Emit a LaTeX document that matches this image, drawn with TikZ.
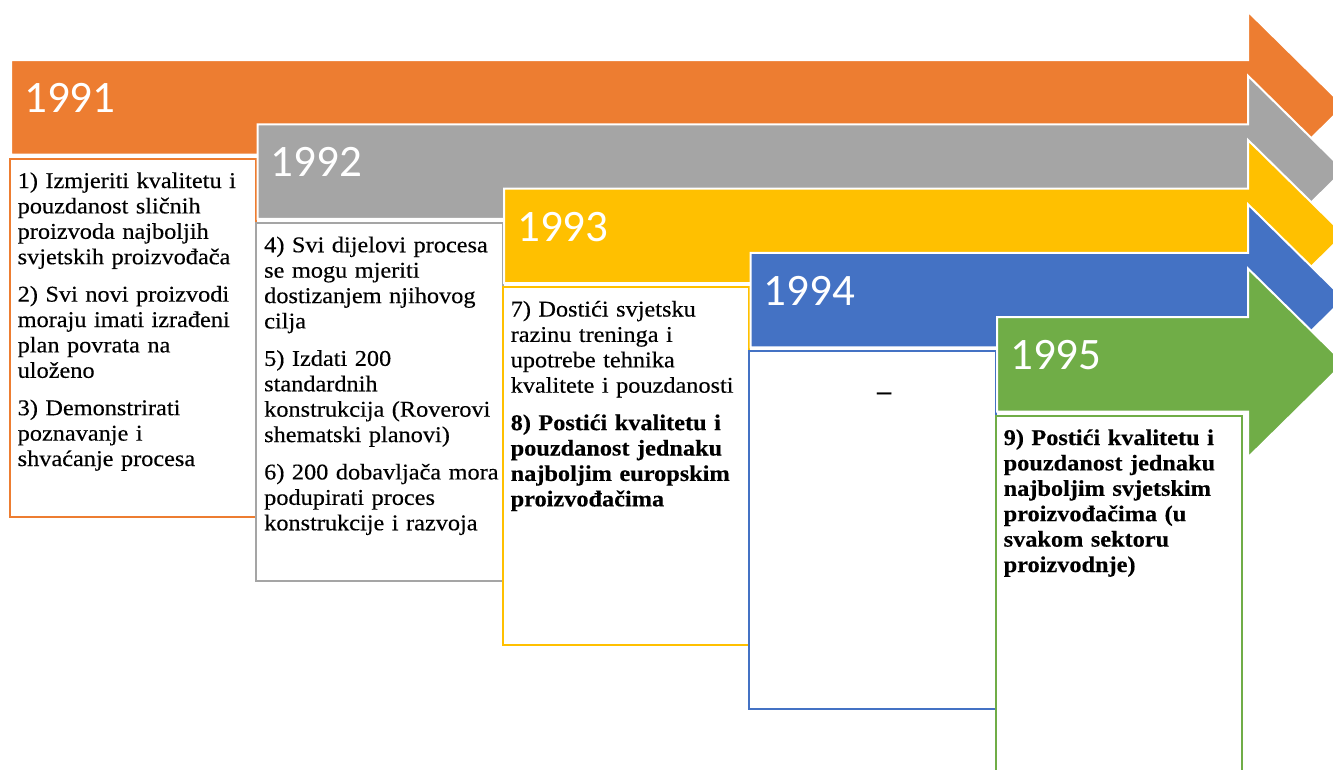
\documentclass[tikz,border=0pt]{standalone}
\usepackage{fontspec}
\setmainfont{Liberation Serif}[FakeStretch=1.08, UprightFeatures={FakeBold=0.35}, BoldFeatures={FakeBold=0.35}]
\newfontfamily\yearfont{Carlito}
\definecolor{corange}{HTML}{ED7D31}
\definecolor{cgray}{HTML}{A5A5A5}
\definecolor{cyellow}{HTML}{FFC000}
\definecolor{cblue}{HTML}{4472C4}
\definecolor{cgreen}{HTML}{70AD47}
\tikzset{
  stagearrow/.style={draw=white, line width=2pt},
  stagebox/.style={fill=white, line width=2pt},
  yeartext/.style={font=\yearfont\fontsize{45}{50}\selectfont, text=white, inner sep=0pt, anchor=base west},
  bodytext/.style={font=\fontsize{22.5}{25.4}\selectfont, text width=270pt, align=left, inner sep=0pt, anchor=base west},
}
\begin{document}
\begin{tikzpicture}[x=1pt,y=-1pt]
\useasboundingbox (0,0) rectangle (1333,769);
\clip (0,0) rectangle (1333,769);
\foreach \i/\col/\yr in {0/corange/1991,1/cgray/1992,2/cyellow/1993,3/cblue/1994,4/cgreen/1995}{
  \pgfmathsetmacro\L{11+246.5*\i}
  \pgfmathsetmacro\T{60+64.25*\i}
  \pgfmathsetmacro\B{\T+94.5}
  \filldraw[stagearrow, fill=\col] (\L,\T) -- (1248,\T) -- (1248,\T-48.5) -- (1344,\T+46)
     -- (1248,\B+46) -- (1248,\B) -- (\L,\B) -- cycle;
  \draw[stagebox, draw=\col] (\L-1.5,\B+4) rectangle (\L+245,\B+362);
  \node[yeartext] (y\yr) at (\L+13,\T+52.5) {\yr};
  \coordinate (txt\i) at (\L+6.5,\B+33.5);
}
\node[bodytext] (t1991) at (txt0) {1) Izmjeriti kvalitetu i\\ pouzdanost sličnih\\ proizvoda najboljih\\ svjetskih proizvođača\\[12pt]
2) Svi novi proizvodi\\ moraju imati izrađeni\\ plan povrata na\\ uloženo\\[12pt]
3) Demonstrirati\\ poznavanje i\\ shvaćanje procesa};
\node[bodytext] (t1992) at (txt1) {4) Svi dijelovi procesa\\ se mogu mjeriti\\ dostizanjem njihovog\\ cilja\\[12pt]
5) Izdati 200\\ standardnih\\ konstrukcija (Roverovi\\ shematski planovi)\\[12pt]
6) 200 dobavljača mora\\ podupirati proces\\ konstrukcije i razvoja};
\node[bodytext] (t1993) at (txt2) {7) Dostići svjetsku\\ razinu treninga i\\ upotrebe tehnika\\ kvalitete i pouzdanosti\\[12pt]
{\bfseries 8) Postići kvalitetu i\\ pouzdanost jednaku\\ najboljim europskim\\ proizvođačima}};
\node[font=\fontsize{26}{28}\selectfont\bfseries, inner sep=0pt, anchor=base] (t1994) at (884,399.5) {–};
\node[bodytext] (t1995) at (txt4) {{\bfseries 9) Postići kvalitetu i\\ pouzdanost jednaku\\ najboljim svjetskim\\ proizvođačima (u\\ svakom sektoru\\ proizvodnje)}};
\end{tikzpicture}
\end{document}
